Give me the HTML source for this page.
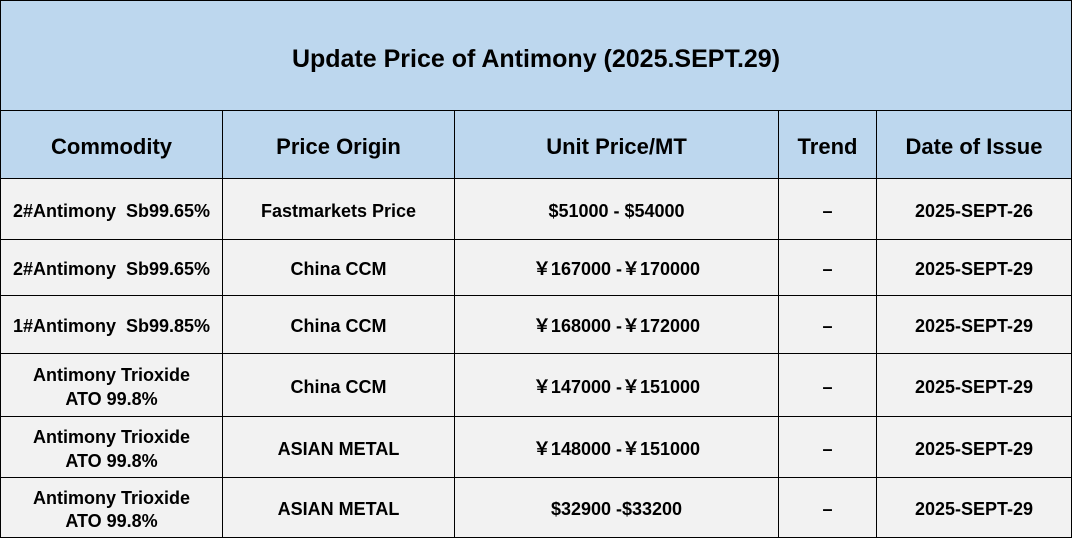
<!DOCTYPE html>
<html><head><meta charset="utf-8"><style>
body{margin:0;width:1072px;height:538px;overflow:hidden;background:#fff;font-family:"Liberation Sans","Noto Sans CJK SC",sans-serif;font-weight:bold;color:#000}
.c{position:absolute;display:flex;align-items:center;justify-content:center;text-align:center;box-sizing:border-box;border-right:1.5px solid #000;border-bottom:1.5px solid #000;line-height:1.3;padding-top:5px}
</style></head><body>
<div style="position:absolute;left:0;top:0;width:1072px;height:538px;border-left:1.5px solid #000;border-top:1.5px solid #000;box-sizing:border-box"></div>
<div id="t"></div>
<script>
(function(){
var cols=[1,223,455,779,877,1072];
var rows=[1,111,179,240,296,354,417,478,538];
var h='';
h+='<div class="c" style="left:1px;top:1px;width:1071px;height:110px;background:#BDD7EE;font-size:25px;padding-top:8px">Update Price of Antimony (2025.SEPT.29)</div>';
var data=[
["Commodity","Price Origin","Unit Price/MT","Trend","Date of Issue"],
["2#Antimony&nbsp; Sb99.65%","Fastmarkets Price","$51000 - $54000","–","2025-SEPT-26"],
["2#Antimony&nbsp; Sb99.65%","China CCM","￥167000 -￥170000","–","2025-SEPT-29"],
["1#Antimony&nbsp; Sb99.85%","China CCM","￥168000 -￥172000","–","2025-SEPT-29"],
["Antimony Trioxide<br>ATO 99.8%","China CCM","￥147000 -￥151000","–","2025-SEPT-29"],
["Antimony Trioxide<br>ATO 99.8%","ASIAN METAL","￥148000 -￥151000","–","2025-SEPT-29"],
["Antimony Trioxide<br>ATO 99.8%","ASIAN METAL","$32900 -$33200","–","2025-SEPT-29"]];
for(var r=0;r<data.length;r++){for(var k=0;k<5;k++){
var y0=rows[r+1],ht=rows[r+2]-y0;
h+='<div class="c" style="left:'+cols[k]+'px;top:'+y0+'px;width:'+(cols[k+1]-cols[k])+'px;height:'+ht+'px;background:'+(r==0?'#BDD7EE':'#F2F2F2')+';font-size:'+(r==0?22:18)+'px">'+data[r][k]+'</div>';}}
document.getElementById('t').innerHTML=h;
})();
</script>
</body></html>
